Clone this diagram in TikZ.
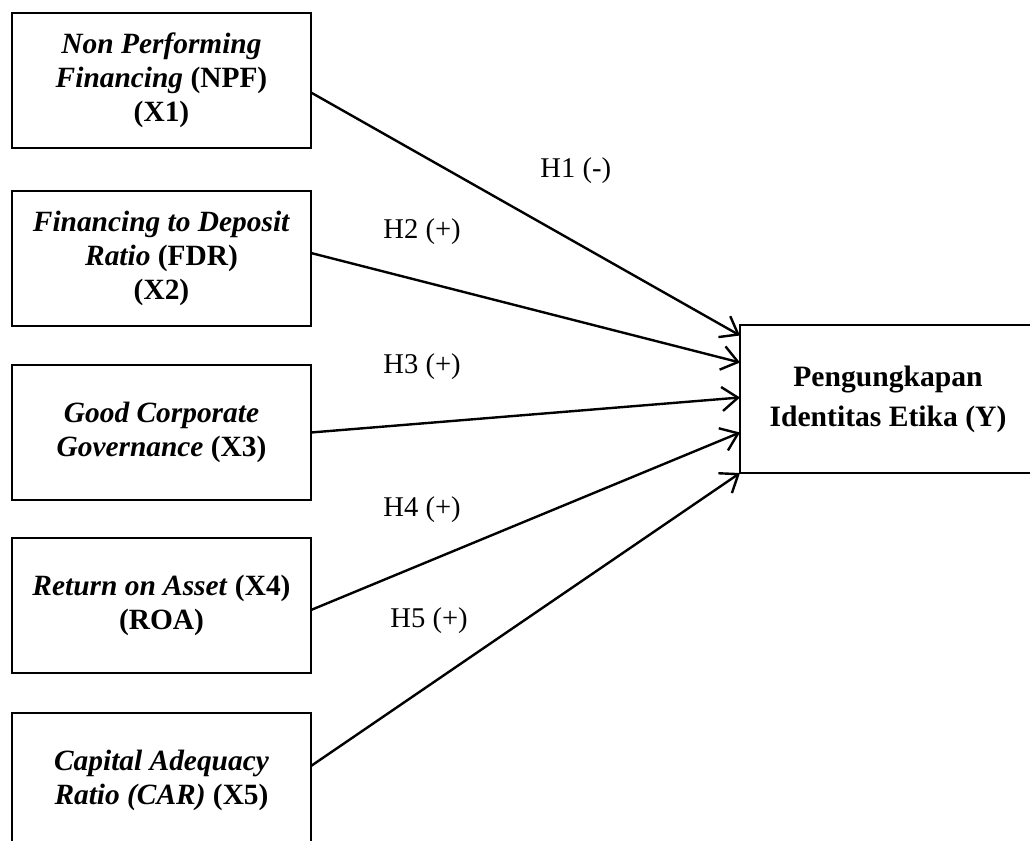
\documentclass[tikz,border=0pt]{standalone}
\usepackage{fontspec}
\setmainfont{Liberation Serif}
\usetikzlibrary{arrows.meta,positioning}
\tikzset{
    varbox/.style={rectangle, draw=black, line width=1pt, outer sep=0pt, minimum width=149.5pt, minimum height=67.5pt, align=center, font=\bfseries\fontsize{14.7}{17}\selectfont},
    ybox/.style={rectangle, draw=black, line width=1pt, outer sep=0pt, minimum width=148pt, minimum height=74pt, align=center, font=\bfseries\fontsize{14.8}{20}\selectfont},
    hyp/.style={anchor=base west, inner sep=0pt, font=\fontsize{14.3}{17}\selectfont},
    pil/.style={-{Straight Barb[length=8pt,width=12pt]}, line width=1.2pt}
}

\begin{document}
\begin{tikzpicture}[x=0.5pt, y=-0.5pt, node distance=20pt]
    \useasboundingbox (0,0) rectangle (1030,841);
    \clip (0,0) rectangle (1030,841);
    % independent variables
    \node[varbox] (npf) at (161.5,80.5)
      {\textit{Non Performing}\\
      \textit{Financing} (NPF)\\
      (X1)};
    \node[varbox, below=21.5pt of npf] (fdr)
      {\textit{Financing to Deposit}\\
      \textit{Ratio} (FDR)\\
      (X2)};
    \node[varbox, below=19.5pt of fdr] (gcg)
      {\textit{Good Corporate}\\
      \textit{Governance} (X3)};
    \node[varbox, below=19pt of gcg] (roa)
      {\textit{Return on Asset} (X4)\\
      (ROA)};
    \node[varbox, below=20pt of roa] (car)
      {\textit{Capital Adequacy}\\
      \textit{Ratio (CAR)} (X5)};
    % dependent variable
    \node[ybox] (ident) at (888,399)
      {Pengungkapan\\
      Identitas Etika (Y)};
    % hypotheses
    \draw[pil] ([yshift=-6pt]npf.east) -- ([yshift=31.75pt]ident.west);
    \draw[pil] ([yshift=2.75pt]fdr.east) -- ([yshift=18.25pt]ident.west);
    \draw[pil] (gcg.east) -- ([yshift=0.75pt]ident.west);
    \draw[pil] ([yshift=-2.25pt]roa.east) -- ([yshift=-16.75pt]ident.west);
    \draw[pil] ([yshift=7.25pt]car.east) -- (ident.south west);
    \node[hyp] (h1) at (540,177) {H1 (-)};
    \node[hyp] (h2) at (383,238) {H2 (+)};
    \node[hyp] (h3) at (383,373) {H3 (+)};
    \node[hyp] (h4) at (383,516) {H4 (+)};
    \node[hyp] (h5) at (390,627) {H5 (+)};
\end{tikzpicture}
\end{document}
